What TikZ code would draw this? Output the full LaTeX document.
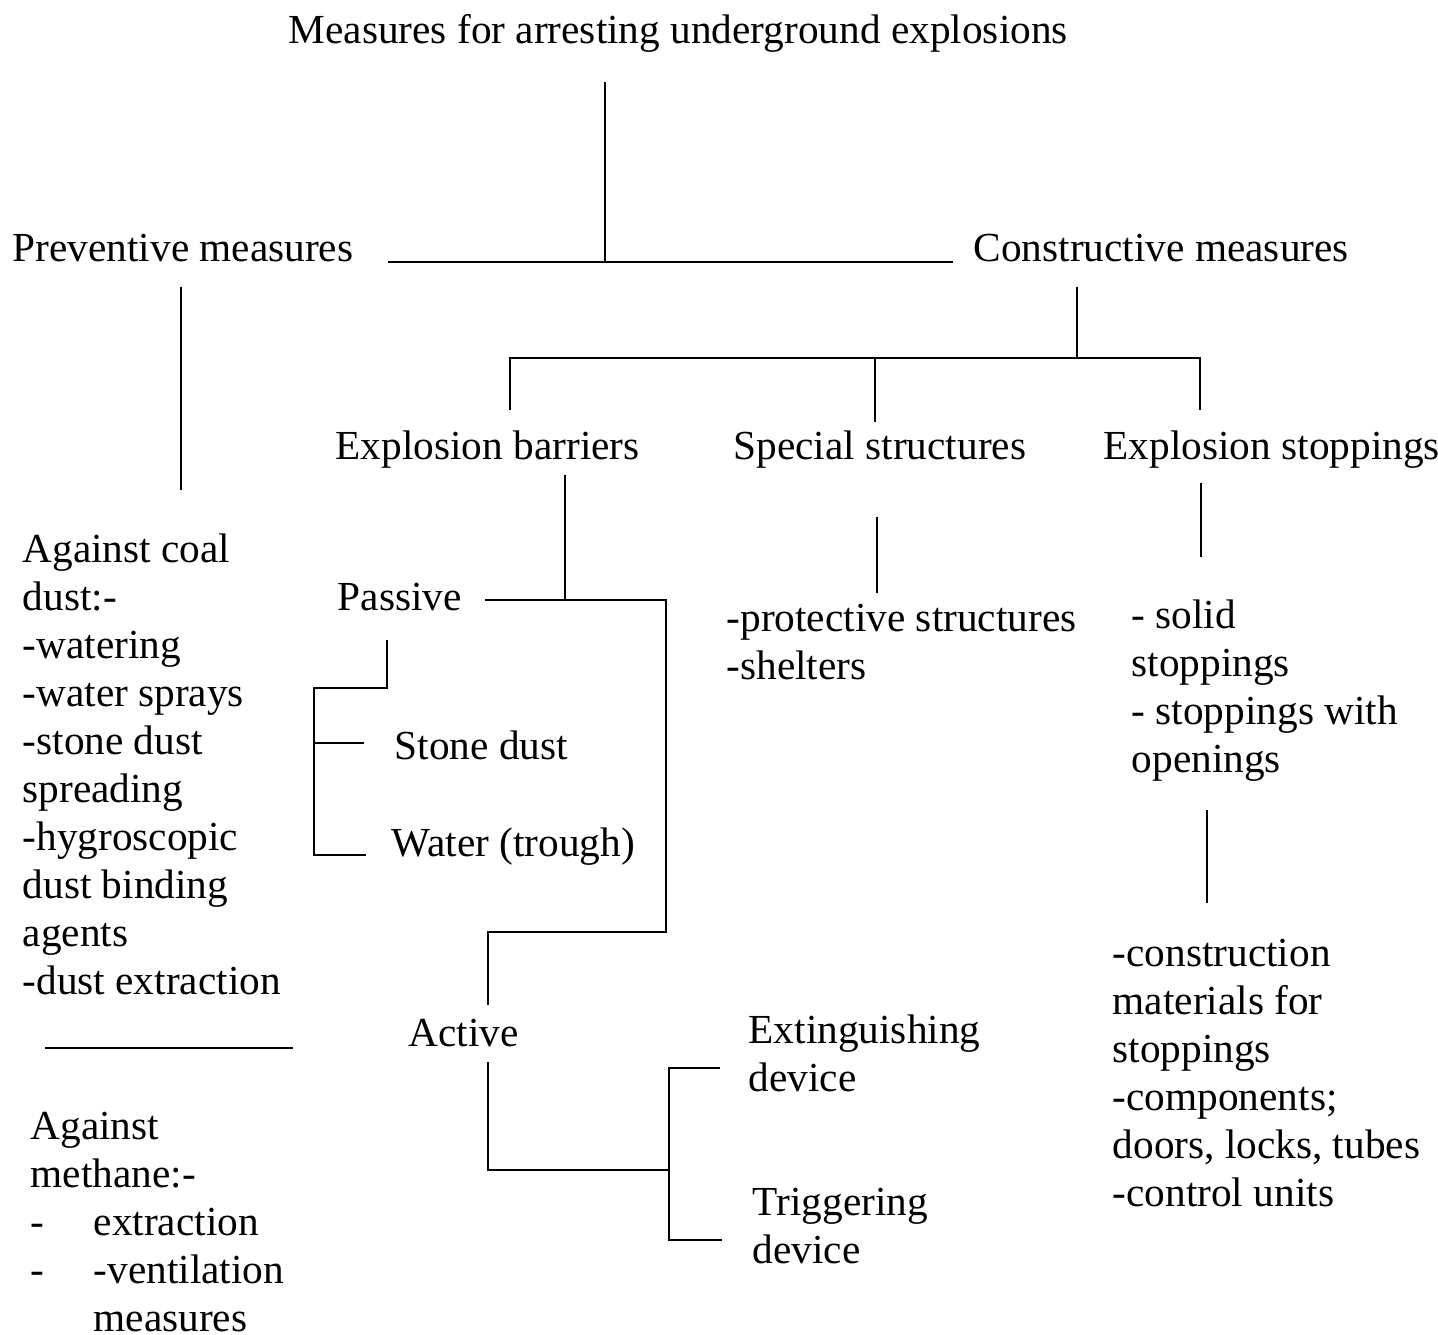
\documentclass[tikz,border=0pt]{standalone}
\usepackage{fontspec}
\setmainfont{Liberation Serif}
\tikzset{
  txt/.style={anchor=base west, inner sep=0pt, align=left, font=\fontsize{11.8}{13.7}\selectfont},
  conn/.style={line width=0.6pt}
}
\begin{document}
\begin{tikzpicture}[x=0.2857pt,y=-0.2857pt]
\useasboundingbox (0,0) rectangle (1438,1335);
% top level (multi-line nodes sit on their last line)
\node[txt] (title) at (288,44) {Measures for arresting underground explosions};
\node[txt] (prev) at (12,262) {Preventive measures};
\node[txt] (cons) at (973,262) {Constructive measures};
\coordinate (t1) at (605,82); \coordinate (t2) at (605,262);
\coordinate (pr) at (388,262); \coordinate (cl) at (953,262);
\draw[conn] (t1)--(t2); \draw[conn] (pr)--(cl);
% preventive
\coordinate (p1) at (181,287); \coordinate (p2) at (181,490);
\draw[conn] (p1)--(p2);
\node[txt] (coal) at (22,994) {Against coal\\dust:-\\-watering\\-water sprays\\-stone dust\\spreading\\-hygroscopic\\dust binding\\agents\\-dust extraction};
\coordinate (s1) at (45,1048); \coordinate (s2) at (293,1048);
\draw[conn] (s1)--(s2);
\node[txt] (meth) at (30,1331) {Against\\methane:-\\\makebox[18pt][l]{-}extraction\\\makebox[18pt][l]{-}-ventilation\\\hspace*{18pt}measures};
% constructive
\coordinate (c1) at (1077,287); \coordinate (c2) at (1077,358);
\coordinate (b1) at (510,410); \coordinate (b2) at (510,358);
\coordinate (b3) at (1200,358); \coordinate (b4) at (1200,410);
\coordinate (m1) at (875,358); \coordinate (m2) at (875,422);
\draw[conn] (c1)--(c2); \draw[conn] (b1)--(b2)--(b3)--(b4); \draw[conn] (m1)--(m2);
\node[txt] (barr) at (335,460) {Explosion barriers};
\node[txt] (spec) at (733,460) {Special structures};
\node[txt] (stop) at (1103,460) {Explosion stoppings};
% barriers
\coordinate (e1) at (565,475); \coordinate (e2) at (565,600);
\coordinate (e3) at (485,600); \coordinate (e4) at (666,600);
\coordinate (e5) at (666,932); \coordinate (e6) at (488,932); \coordinate (e7) at (488,1005);
\draw[conn] (e1)--(e2); \draw[conn] (e3)--(e4)--(e5)--(e6)--(e7);
\node[txt] (pass) at (337,610) {Passive};
\node[txt] (sdust) at (394,759) {Stone dust};
\node[txt] (water) at (391,856) {Water (trough)};
\coordinate (q1) at (387,640); \coordinate (q2) at (387,688); \coordinate (q3) at (314,688);
\coordinate (q4) at (314,855); \coordinate (q5) at (366,855);
\coordinate (q6) at (314,743); \coordinate (q7) at (364,743);
\draw[conn] (q1)--(q2)--(q3)--(q4)--(q5); \draw[conn] (q6)--(q7);
\node[txt] (act) at (408,1046) {Active};
\node[txt] (ext) at (748,1091) {Extinguishing\\device};
\node[txt] (trig) at (752,1263) {Triggering\\device};
\coordinate (a1) at (488,1062); \coordinate (a2) at (488,1170); \coordinate (a3) at (669,1170);
\coordinate (a4) at (720,1068); \coordinate (a5) at (669,1068);
\coordinate (a6) at (669,1240); \coordinate (a7) at (722,1240);
\draw[conn] (a1)--(a2)--(a3); \draw[conn] (a4)--(a5)--(a6)--(a7);
% special structures
\coordinate (r1) at (877,517); \coordinate (r2) at (877,593);
\draw[conn] (r1)--(r2);
\node[txt] (prot) at (726,679) {-protective structures\\-shelters};
% stoppings
\coordinate (o1) at (1201,483); \coordinate (o2) at (1201,557);
\draw[conn] (o1)--(o2);
\node[txt] (solid) at (1131,772) {- solid\\stoppings\\- stoppings with\\openings};
\coordinate (o3) at (1207,810); \coordinate (o4) at (1207,903);
\draw[conn] (o3)--(o4);
\node[txt] (mat) at (1112,1206) {-construction\\materials for\\stoppings\\-components;\\doors, locks, tubes\\-control units};
\end{tikzpicture}
\end{document}
